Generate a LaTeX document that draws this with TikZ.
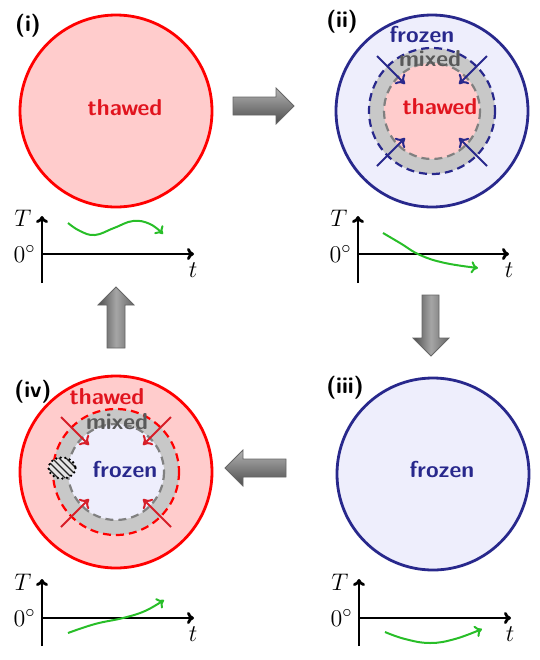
\documentclass[tikz,border=0pt]{standalone}
\usetikzlibrary{arrows.meta,shapes.geometric}
\definecolor{navy}{RGB}{40,40,140}
\definecolor{thawfill}{RGB}{255,204,204}
\definecolor{frozfill}{RGB}{238,238,252}
\definecolor{ringgray}{RGB}{200,200,200}
\definecolor{greenc}{RGB}{40,190,40}
\definecolor{crimson}{RGB}{215,30,40}
\definecolor{thawtext}{RGB}{225,20,30}
\begin{document}
\begin{tikzpicture}[x=0.5pt,y=-0.5pt,
  disc/.style={circle, minimum size=96pt, inner sep=0pt, line width=1.4pt},
  thawdisc/.style={disc, draw=red, fill=thawfill},
  frozdisc/.style={disc, draw=navy, fill=frozfill},
  lbl/.style={font=\sffamily\bfseries\fontsize{11.5}{13}\selectfont, inner sep=0pt},
  plbl/.style={lbl, text=black},
  axisline/.style={line width=1.4pt, -{To[length=3.5pt,width=6pt]}},
  tcurve/.style={greenc, line width=1pt, -{To[length=3.5pt,width=6pt]}},
  mathlbl/.style={inner sep=0pt, font=\fontsize{13}{15}\selectfont},
  inarrow/.style={line width=1pt, -{To[length=4pt,width=7pt]}},
  blockarrow/.style={draw=black!60, line width=0.4pt},
  ringdash/.style={line width=1.1pt, dash pattern=on 4pt off 2.5pt}
]
\useasboundingbox (0,0) rectangle (540,660);

% ---------- panel (i) ----------
\node[thawdisc] (c1) at (116,111) {};
\node[lbl, text=thawtext] (t1) at (125,108) {thawed};
\node[plbl] (p1) at (28,26) {(i)};
\coordinate (o1) at (42,254);
\coordinate (y1b) at (42,283);
\coordinate (y1t) at (42,216);
\coordinate (x1r) at (194,254);
\draw[axisline] (y1b) -- (y1t);
\draw[axisline] (o1) -- (x1r);
\node[mathlbl] (T1) at (23,218) {$T$};
\node[mathlbl, anchor=east] (z1) at (36,254) {$0^\circ$};
\node[mathlbl] (tt1) at (193,270) {$t$};
\draw[tcurve] plot[smooth, tension=0.7] coordinates {(68,223) (80,231) (95,235) (114,228) (133,221) (150,224) (163,234)};

% ---------- panel (ii) ----------
\node[frozdisc] (c2) at (432,111) {};
\fill[ringgray] (c2.center) circle[radius=63];
\draw[gray, fill=thawfill, ringdash] (c2.center) circle[radius=48];
\draw[navy, ringdash] (c2.center) circle[radius=63];
\foreach \sx/\sy in {-1/-1, 1/-1, -1/1, 1/1}{
  \draw[navy, inarrow] ([shift={(55*\sx,55*\sy)}]c2.center) -- ([shift={(27*\sx,27*\sy)}]c2.center);
}
\node[lbl, text=navy] (f2) at (422,35) {frozen};
\node[lbl, text=black!65] (m2) at (430,59) {mixed};
\node[lbl, text=thawtext] (t2) at (440,107) {thawed};
\node[plbl] (p2) at (342,22) {(ii)};
\coordinate (o2) at (358,254);
\coordinate (y2b) at (358,283);
\coordinate (y2t) at (358,216);
\coordinate (x2r) at (509,254);
\draw[axisline] (y2b) -- (y2t);
\draw[axisline] (o2) -- (x2r);
\node[mathlbl] (T2) at (339,218) {$T$};
\node[mathlbl, anchor=east] (z2) at (352,254) {$0^\circ$};
\node[mathlbl] (tt2) at (509,270) {$t$};
\draw[tcurve] plot[smooth, tension=0.7] coordinates {(383,233) (400,243) (420,255) (445,263) (478,268)};

% ---------- panel (iii) ----------
\node[frozdisc] (c3) at (433,474) {};
\node[lbl, text=navy] (f3) at (442,470) {frozen};
\node[plbl] (p3) at (345,388) {(iii)};
\coordinate (o3) at (359,618);
\coordinate (y3b) at (359,646);
\coordinate (y3t) at (359,579);
\coordinate (x3r) at (511,618);
\draw[axisline] (y3b) -- (y3t);
\draw[axisline] (o3) -- (x3r);
\node[mathlbl] (T3) at (340,582) {$T$};
\node[mathlbl, anchor=east] (z3) at (353,618) {$0^\circ$};
\node[mathlbl] (tt3) at (510,634) {$t$};
\draw[tcurve] plot[smooth, tension=0.7] coordinates {(385,632) (405,639) (430,643) (455,639) (482,629)};

% ---------- panel (iv) ----------
\node[thawdisc] (c4) at (116,472) {};
\fill[ringgray] (c4.center) circle[radius=63];
\draw[gray, fill=frozfill, ringdash] (c4.center) circle[radius=48];
\draw[red, ringdash] (c4.center) circle[radius=63];
\node[ellipse, minimum width=13.5pt, minimum height=10.5pt, inner sep=0pt,
      fill=black!10] (h4) at (62,468) {};
\begin{scope}
  \clip (h4.center) ellipse[x radius=13.5, y radius=10.5];
  \foreach \i in {-35,-28,...,35}{
    \draw[black!85, line width=0.7pt] ([shift={(\i-15,-15)}]h4.center) -- ([shift={(\i+15,15)}]h4.center);
  }
\end{scope}
\draw[black, line width=1.3pt, dash pattern=on 0pt off 2.3pt, line cap=round]
  (h4.center) ellipse[x radius=13.5, y radius=10.5];
\foreach \sx/\sy in {-1/-1, 1/-1, -1/1, 1/1}{
  \draw[crimson, inarrow] ([shift={(55*\sx,55*\sy)}]c4.center) -- ([shift={(27*\sx,27*\sy)}]c4.center);
}
\node[lbl, text=thawtext] (t4) at (107,397) {thawed};
\node[lbl, text=black!65] (m4) at (117,422) {mixed};
\node[lbl, text=navy] (f4) at (125,470) {frozen};
\node[plbl] (p4) at (33,392) {(iv)};
\coordinate (o4) at (42,618);
\coordinate (y4b) at (42,646);
\coordinate (y4t) at (42,579);
\coordinate (x4r) at (194,618);
\draw[axisline] (y4b) -- (y4t);
\draw[axisline] (o4) -- (x4r);
\node[mathlbl] (T4) at (23,582) {$T$};
\node[mathlbl, anchor=east] (z4) at (36,618) {$0^\circ$};
\node[mathlbl] (tt4) at (193,634) {$t$};
\draw[tcurve] plot[smooth, tension=0.7] coordinates {(68,633) (95,624) (123,618) (145,611) (164,600)};

% ---------- block arrows ----------
\shade[blockarrow, top color=black!30, bottom color=black!70]
  (233,97) -- (276,97) -- (276,88) -- (294,106) -- (276,124) -- (276,115) -- (233,115) -- cycle;
\shade[blockarrow, left color=black!70, right color=black!60, middle color=black!35]
  (422,295) -- (439,295) -- (439,338) -- (449,338) -- (431,356) -- (413,338) -- (422,338) -- cycle;
\shade[blockarrow, top color=black!30, bottom color=black!70]
  (286,459) -- (243,459) -- (243,450) -- (225,468) -- (243,486) -- (243,477) -- (286,477) -- cycle;
\shade[blockarrow, left color=black!70, right color=black!60, middle color=black!35]
  (107,348) -- (125,348) -- (125,305) -- (134,305) -- (116,287) -- (98,305) -- (107,305) -- cycle;
\end{tikzpicture}
\end{document}
